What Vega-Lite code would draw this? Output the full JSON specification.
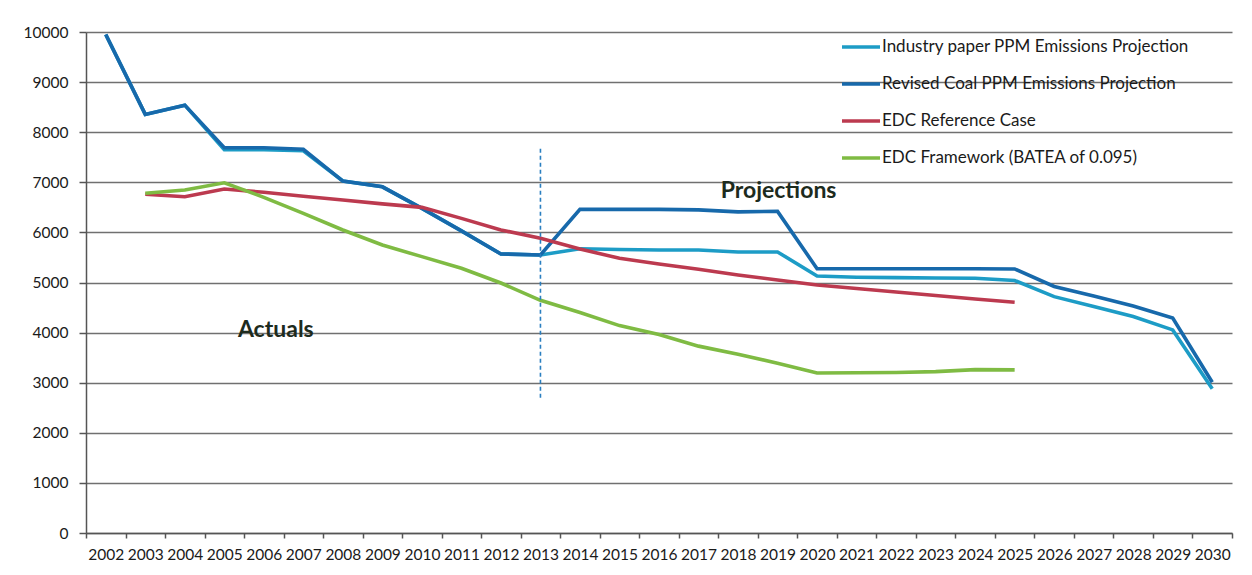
{
  "$schema": "https://vega.github.io/schema/vega-lite/v6.json",
  "autosize": "none",
  "width": 1146,
  "height": 501,
  "padding": {"left": 86, "top": 32, "right": 20, "bottom": 42},
  "background": "white",
  "config": {
    "font": "Lato",
    "view": {"stroke": null}
  },
  "datasets": {
    "emissions": [
      {"year": 2002, "series": "Industry paper PPM Emissions Projection", "value": 9950},
      {"year": 2003, "series": "Industry paper PPM Emissions Projection", "value": 8355},
      {"year": 2004, "series": "Industry paper PPM Emissions Projection", "value": 8540},
      {"year": 2005, "series": "Industry paper PPM Emissions Projection", "value": 7650},
      {"year": 2006, "series": "Industry paper PPM Emissions Projection", "value": 7650},
      {"year": 2007, "series": "Industry paper PPM Emissions Projection", "value": 7630},
      {"year": 2008, "series": "Industry paper PPM Emissions Projection", "value": 7025},
      {"year": 2009, "series": "Industry paper PPM Emissions Projection", "value": 6910},
      {"year": 2010, "series": "Industry paper PPM Emissions Projection", "value": 6480},
      {"year": 2011, "series": "Industry paper PPM Emissions Projection", "value": 6030},
      {"year": 2012, "series": "Industry paper PPM Emissions Projection", "value": 5570},
      {"year": 2013, "series": "Industry paper PPM Emissions Projection", "value": 5550},
      {"year": 2014, "series": "Industry paper PPM Emissions Projection", "value": 5675},
      {"year": 2015, "series": "Industry paper PPM Emissions Projection", "value": 5660},
      {"year": 2016, "series": "Industry paper PPM Emissions Projection", "value": 5650},
      {"year": 2017, "series": "Industry paper PPM Emissions Projection", "value": 5650},
      {"year": 2018, "series": "Industry paper PPM Emissions Projection", "value": 5610},
      {"year": 2019, "series": "Industry paper PPM Emissions Projection", "value": 5610},
      {"year": 2020, "series": "Industry paper PPM Emissions Projection", "value": 5130},
      {"year": 2021, "series": "Industry paper PPM Emissions Projection", "value": 5105},
      {"year": 2022, "series": "Industry paper PPM Emissions Projection", "value": 5097},
      {"year": 2023, "series": "Industry paper PPM Emissions Projection", "value": 5090},
      {"year": 2024, "series": "Industry paper PPM Emissions Projection", "value": 5085},
      {"year": 2025, "series": "Industry paper PPM Emissions Projection", "value": 5040},
      {"year": 2026, "series": "Industry paper PPM Emissions Projection", "value": 4718},
      {"year": 2027, "series": "Industry paper PPM Emissions Projection", "value": 4520},
      {"year": 2028, "series": "Industry paper PPM Emissions Projection", "value": 4320},
      {"year": 2029, "series": "Industry paper PPM Emissions Projection", "value": 4054},
      {"year": 2030, "series": "Industry paper PPM Emissions Projection", "value": 2880},

      {"year": 2002, "series": "Revised Coal PPM Emissions Projection", "value": 9950},
      {"year": 2003, "series": "Revised Coal PPM Emissions Projection", "value": 8355},
      {"year": 2004, "series": "Revised Coal PPM Emissions Projection", "value": 8540},
      {"year": 2005, "series": "Revised Coal PPM Emissions Projection", "value": 7690},
      {"year": 2006, "series": "Revised Coal PPM Emissions Projection", "value": 7690},
      {"year": 2007, "series": "Revised Coal PPM Emissions Projection", "value": 7660},
      {"year": 2008, "series": "Revised Coal PPM Emissions Projection", "value": 7025},
      {"year": 2009, "series": "Revised Coal PPM Emissions Projection", "value": 6910},
      {"year": 2010, "series": "Revised Coal PPM Emissions Projection", "value": 6480},
      {"year": 2011, "series": "Revised Coal PPM Emissions Projection", "value": 6030},
      {"year": 2012, "series": "Revised Coal PPM Emissions Projection", "value": 5570},
      {"year": 2013, "series": "Revised Coal PPM Emissions Projection", "value": 5550},
      {"year": 2014, "series": "Revised Coal PPM Emissions Projection", "value": 6460},
      {"year": 2015, "series": "Revised Coal PPM Emissions Projection", "value": 6460},
      {"year": 2016, "series": "Revised Coal PPM Emissions Projection", "value": 6460},
      {"year": 2017, "series": "Revised Coal PPM Emissions Projection", "value": 6450},
      {"year": 2018, "series": "Revised Coal PPM Emissions Projection", "value": 6410},
      {"year": 2019, "series": "Revised Coal PPM Emissions Projection", "value": 6420},
      {"year": 2020, "series": "Revised Coal PPM Emissions Projection", "value": 5275},
      {"year": 2021, "series": "Revised Coal PPM Emissions Projection", "value": 5275},
      {"year": 2022, "series": "Revised Coal PPM Emissions Projection", "value": 5275},
      {"year": 2023, "series": "Revised Coal PPM Emissions Projection", "value": 5275},
      {"year": 2024, "series": "Revised Coal PPM Emissions Projection", "value": 5275},
      {"year": 2025, "series": "Revised Coal PPM Emissions Projection", "value": 5270},
      {"year": 2026, "series": "Revised Coal PPM Emissions Projection", "value": 4920},
      {"year": 2027, "series": "Revised Coal PPM Emissions Projection", "value": 4730},
      {"year": 2028, "series": "Revised Coal PPM Emissions Projection", "value": 4530},
      {"year": 2029, "series": "Revised Coal PPM Emissions Projection", "value": 4290},
      {"year": 2030, "series": "Revised Coal PPM Emissions Projection", "value": 3010},

      {"year": 2003, "series": "EDC Reference Case", "value": 6760},
      {"year": 2004, "series": "EDC Reference Case", "value": 6712},
      {"year": 2005, "series": "EDC Reference Case", "value": 6866},
      {"year": 2006, "series": "EDC Reference Case", "value": 6800},
      {"year": 2007, "series": "EDC Reference Case", "value": 6720},
      {"year": 2008, "series": "EDC Reference Case", "value": 6646},
      {"year": 2009, "series": "EDC Reference Case", "value": 6570},
      {"year": 2010, "series": "EDC Reference Case", "value": 6500},
      {"year": 2011, "series": "EDC Reference Case", "value": 6280},
      {"year": 2012, "series": "EDC Reference Case", "value": 6050},
      {"year": 2013, "series": "EDC Reference Case", "value": 5882},
      {"year": 2014, "series": "EDC Reference Case", "value": 5669},
      {"year": 2015, "series": "EDC Reference Case", "value": 5483},
      {"year": 2016, "series": "EDC Reference Case", "value": 5370},
      {"year": 2017, "series": "EDC Reference Case", "value": 5264},
      {"year": 2018, "series": "EDC Reference Case", "value": 5150},
      {"year": 2019, "series": "EDC Reference Case", "value": 5051},
      {"year": 2020, "series": "EDC Reference Case", "value": 4951},
      {"year": 2021, "series": "EDC Reference Case", "value": 4880},
      {"year": 2022, "series": "EDC Reference Case", "value": 4810},
      {"year": 2023, "series": "EDC Reference Case", "value": 4740},
      {"year": 2024, "series": "EDC Reference Case", "value": 4670},
      {"year": 2025, "series": "EDC Reference Case", "value": 4606},

      {"year": 2003, "series": "EDC Framework (BATEA of 0.095)", "value": 6780},
      {"year": 2004, "series": "EDC Framework (BATEA of 0.095)", "value": 6846},
      {"year": 2005, "series": "EDC Framework (BATEA of 0.095)", "value": 6991},
      {"year": 2006, "series": "EDC Framework (BATEA of 0.095)", "value": 6700},
      {"year": 2007, "series": "EDC Framework (BATEA of 0.095)", "value": 6381},
      {"year": 2008, "series": "EDC Framework (BATEA of 0.095)", "value": 6048},
      {"year": 2009, "series": "EDC Framework (BATEA of 0.095)", "value": 5749},
      {"year": 2010, "series": "EDC Framework (BATEA of 0.095)", "value": 5516},
      {"year": 2011, "series": "EDC Framework (BATEA of 0.095)", "value": 5284},
      {"year": 2012, "series": "EDC Framework (BATEA of 0.095)", "value": 4990},
      {"year": 2013, "series": "EDC Framework (BATEA of 0.095)", "value": 4645},
      {"year": 2014, "series": "EDC Framework (BATEA of 0.095)", "value": 4400},
      {"year": 2015, "series": "EDC Framework (BATEA of 0.095)", "value": 4140},
      {"year": 2016, "series": "EDC Framework (BATEA of 0.095)", "value": 3960},
      {"year": 2017, "series": "EDC Framework (BATEA of 0.095)", "value": 3730},
      {"year": 2018, "series": "EDC Framework (BATEA of 0.095)", "value": 3570},
      {"year": 2019, "series": "EDC Framework (BATEA of 0.095)", "value": 3390},
      {"year": 2020, "series": "EDC Framework (BATEA of 0.095)", "value": 3195},
      {"year": 2021, "series": "EDC Framework (BATEA of 0.095)", "value": 3200},
      {"year": 2022, "series": "EDC Framework (BATEA of 0.095)", "value": 3203},
      {"year": 2023, "series": "EDC Framework (BATEA of 0.095)", "value": 3222},
      {"year": 2024, "series": "EDC Framework (BATEA of 0.095)", "value": 3260},
      {"year": 2025, "series": "EDC Framework (BATEA of 0.095)", "value": 3256}
    ],
    "divider": [
      {"year": 2013, "low": 2700, "high": 7700}
    ],
    "notes": [
      {"year": 2006, "value": 4050, "label": "Actuals"},
      {"year": 2019, "value": 6820, "label": "Projections"}
    ]
  },
  "encoding": {
    "x": {
      "field": "year",
      "type": "ordinal",
      "scale": {
        "type": "band",
        "paddingInner": 0,
        "paddingOuter": 0,
        "domain": [2002, 2003, 2004, 2005, 2006, 2007, 2008, 2009, 2010, 2011, 2012, 2013, 2014, 2015, 2016, 2017, 2018, 2019, 2020, 2021, 2022, 2023, 2024, 2025, 2026, 2027, 2028, 2029, 2030]
      },
      "axis": {
        "title": null,
        "labelAngle": 0,
        "labelFontSize": 15.5,
        "labelColor": "#1a1a1a",
        "labelPadding": 9,
        "labelOverlap": false,
        "tickBand": "extent",
        "tickSize": 5,
        "tickColor": "#555555",
        "tickWidth": 1.5,
        "domainColor": "#555555",
        "domainWidth": 1.5,
        "grid": false
      }
    },
    "y": {
      "field": "value",
      "type": "quantitative",
      "scale": {"domain": [0, 10000], "nice": false},
      "axis": {
        "title": null,
        "values": [0, 1000, 2000, 3000, 4000, 5000, 6000, 7000, 8000, 9000, 10000],
        "format": "d",
        "labelFontSize": 15.5,
        "labelColor": "#1a1a1a",
        "labelPadding": 11,
        "tickSize": 7,
        "tickColor": "#555555",
        "tickWidth": 1.5,
        "domainColor": "#555555",
        "domainWidth": 1.5,
        "grid": true,
        "gridColor": "#707070",
        "gridWidth": 1.6
      }
    }
  },
  "layer": [
    {
      "data": {"name": "emissions"},
      "mark": {"type": "line", "strokeWidth": 3.6, "strokeJoin": "miter", "strokeCap": "butt"},
      "encoding": {
        "color": {
          "field": "series",
          "type": "nominal",
          "scale": {
            "domain": [
              "Industry paper PPM Emissions Projection",
              "Revised Coal PPM Emissions Projection",
              "EDC Reference Case",
              "EDC Framework (BATEA of 0.095)"
            ],
            "range": ["#1d9cc6", "#1769ab", "#bc3a4f", "#7fbb43"]
          },
          "legend": {
            "title": null,
            "orient": "none",
            "legendX": 754,
            "legendY": -6,
            "symbolType": "stroke",
            "symbolSize": 1444,
            "symbolStrokeWidth": 3.6,
            "labelFontSize": 17,
            "labelColor": "#1a1a1a",
            "labelOffset": 0,
            "rowPadding": 8,
            "labelLimit": 400
          }
        }
      }
    },
    {
      "data": {"name": "divider"},
      "mark": {"type": "rule", "color": "#2a7fc0", "strokeWidth": 1.6, "strokeDash": [4, 3]},
      "encoding": {
        "y": {"field": "low", "type": "quantitative"},
        "y2": {"field": "high"}
      }
    },
    {
      "data": {"name": "notes"},
      "transform": [{"filter": "datum.label === 'Actuals'"}],
      "mark": {"type": "text", "fontSize": 23, "fontWeight": "bold", "color": "#1d2b1d", "dx": 12, "baseline": "middle", "align": "center"},
      "encoding": {"text": {"field": "label"}}
    },
    {
      "data": {"name": "notes"},
      "transform": [{"filter": "datum.label === 'Projections'"}],
      "mark": {"type": "text", "fontSize": 23, "fontWeight": "bold", "color": "#1d2b1d", "dx": 1, "baseline": "middle", "align": "center"},
      "encoding": {"text": {"field": "label"}}
    }
  ]
}
